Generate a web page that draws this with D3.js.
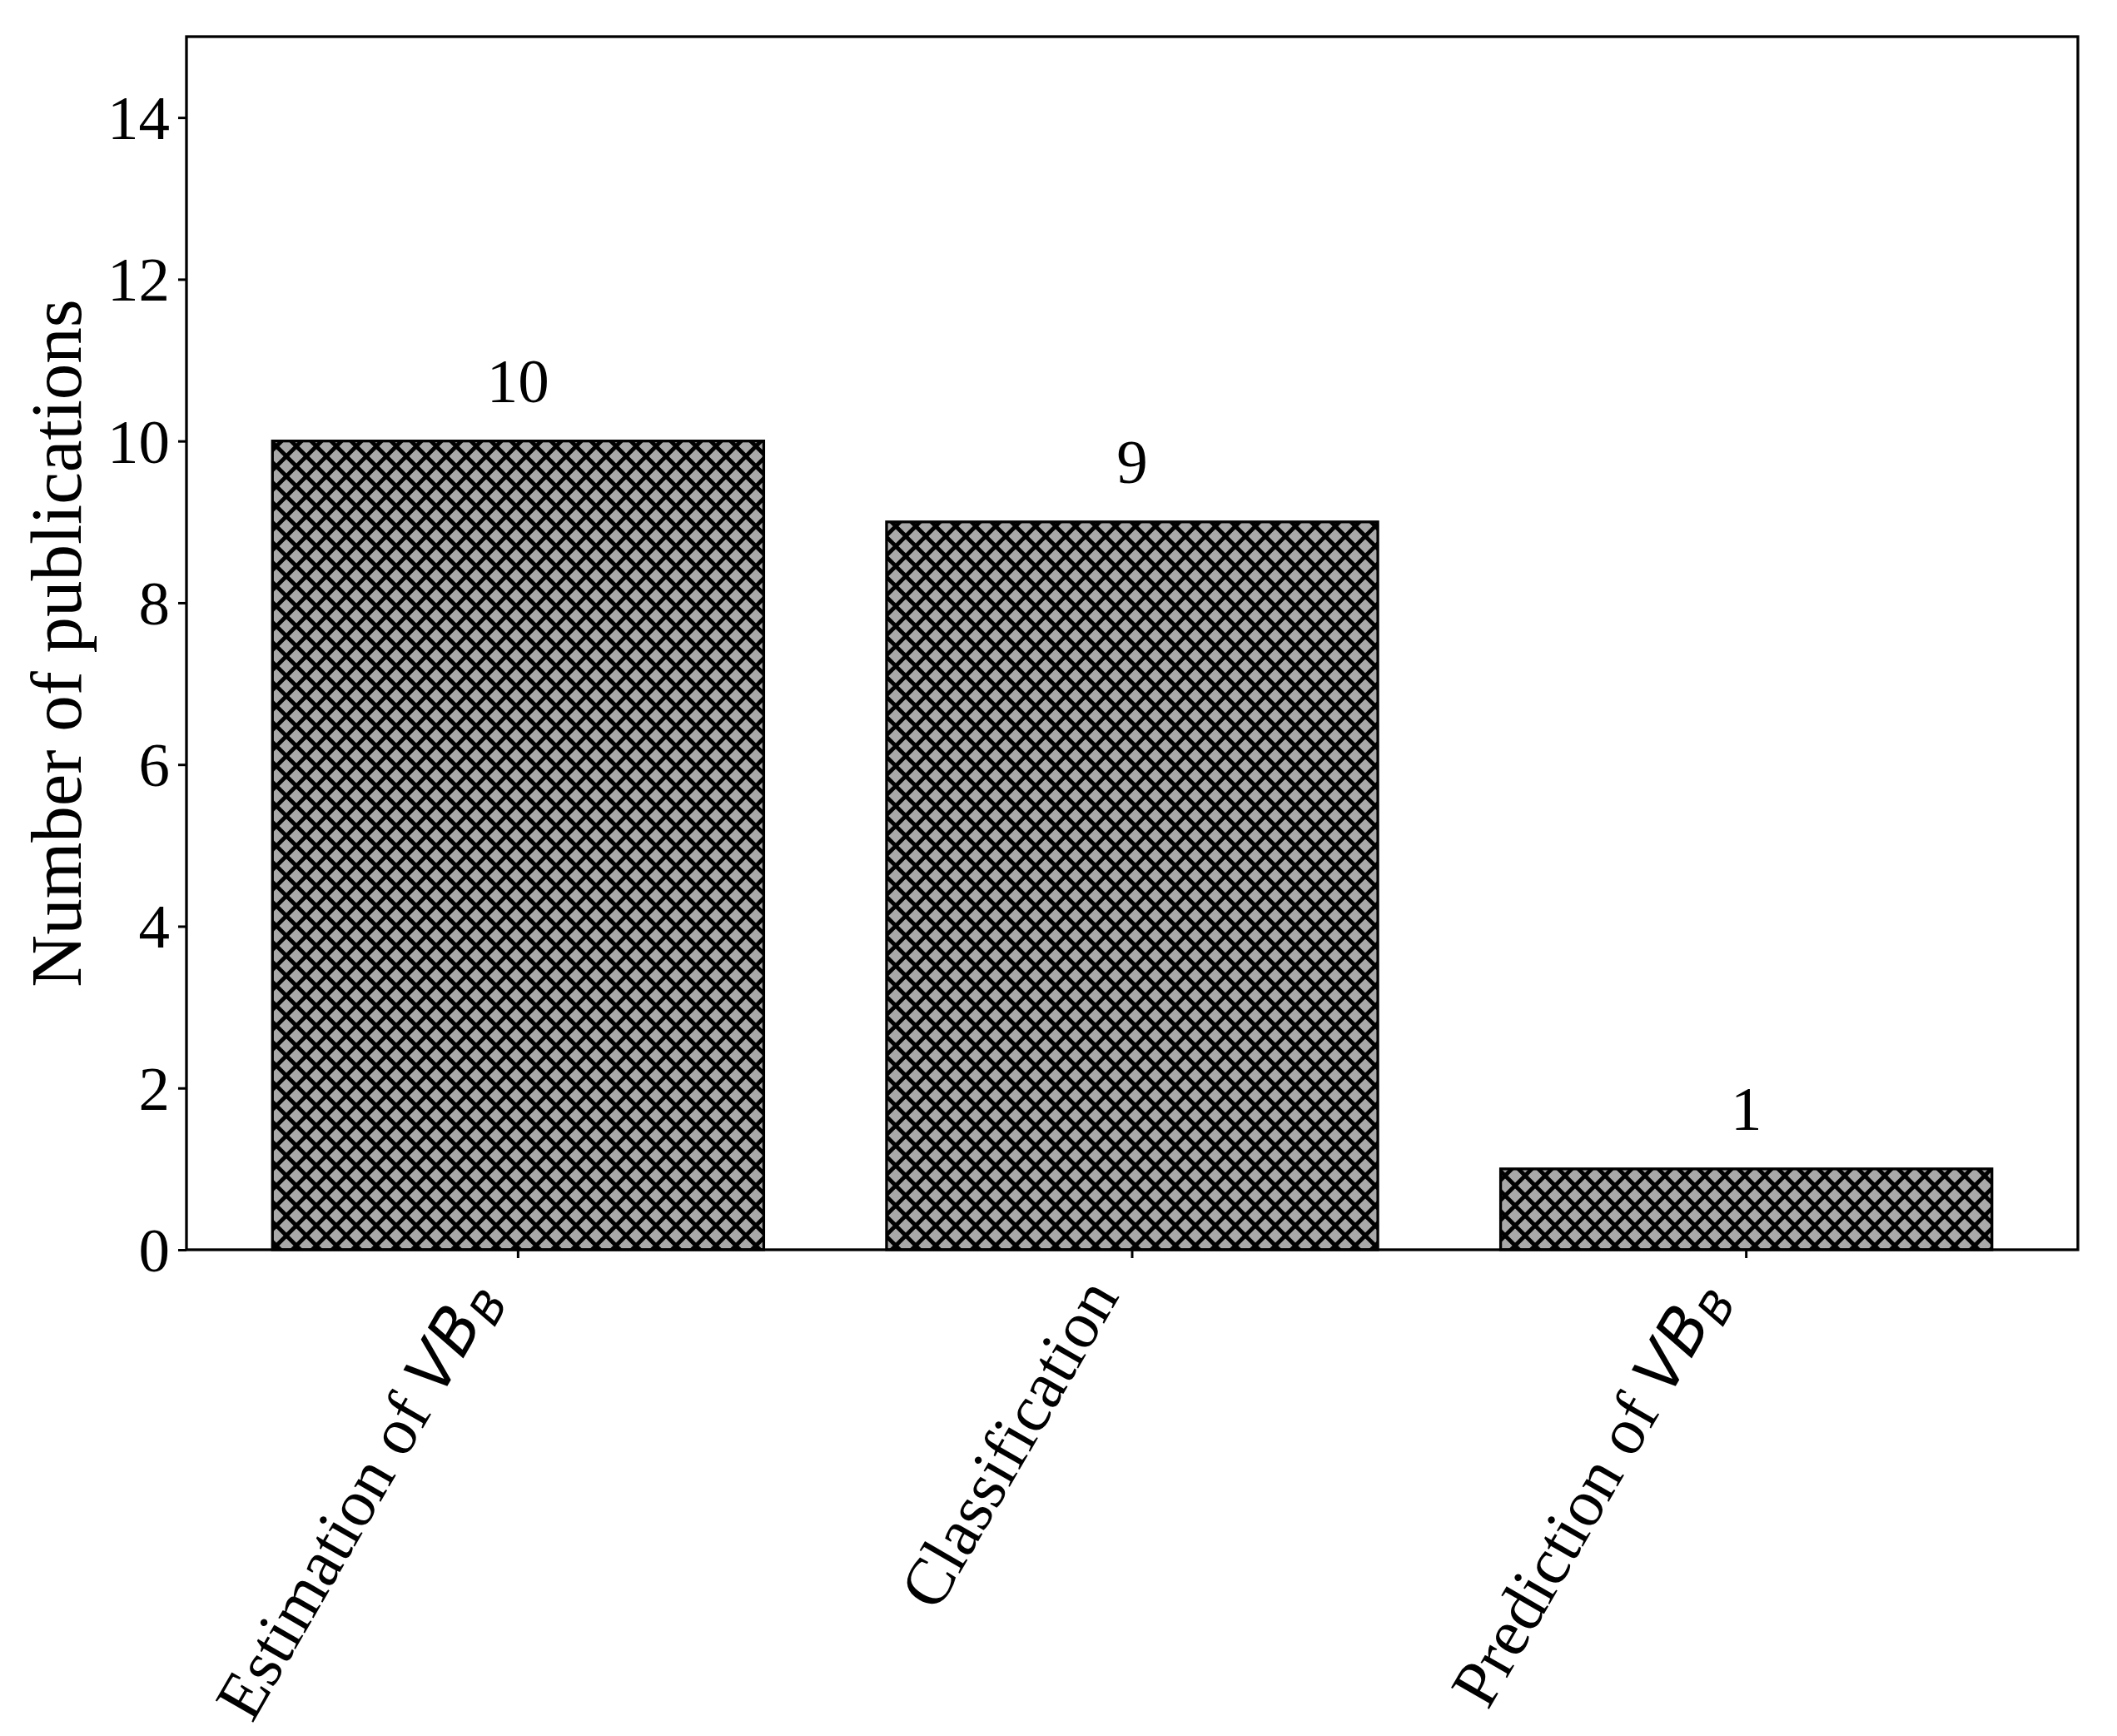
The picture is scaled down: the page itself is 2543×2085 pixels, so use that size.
<!DOCTYPE html>
<html>
<head>
<meta charset="utf-8">
<script src="https://cdn.jsdelivr.net/npm/d3@7"></script>
<style>
  body { margin: 0; background: #fff; }
  text { font-family: "Liberation Serif", "DejaVu Serif", serif; fill: #000; }
</style>
</head>
<body>
<svg id="chart" width="2543" height="2085"></svg>
<script>
// data
const categories = ["Estimation of", "Classification", "Prediction of"];
const mathParts = [true, false, true];   // label ends with italic VB_B
const counts = [10, 9, 1];
const yTicks = [0, 2, 4, 6, 8, 10, 12, 14];

const svg = d3.select("#chart");
const margin = {top: 44, right: 47, bottom: 584, left: 224};
const width = +svg.attr("width") - margin.left - margin.right;
const height = +svg.attr("height") - margin.top - margin.bottom;

// crosshatch fill like matplotlib 'xx'
const step = 24;
const pat = svg.append("defs").append("pattern")
    .attr("id", "xhatch")
    .attr("patternUnits", "userSpaceOnUse")
    .attr("width", step).attr("height", step);
pat.append("rect").attr("width", step).attr("height", step).attr("fill", "#a9a9a9");
pat.append("path")
    .attr("d", "M-12,-12L36,36M12,-12L36,12M-12,12L12,36M-12,36L36,-12M-12,12L12,-12M12,36L36,12")
    .attr("stroke", "#000").attr("stroke-width", 4.8).attr("fill", "none");

const g = svg.append("g").attr("transform", "translate(" + margin.left + "," + margin.top + ")");

const x = d3.scaleBand()
    .domain(d3.range(categories.length))
    .range([0, width])
    .paddingInner(0.2)
    .paddingOuter(0.14);

const y = d3.scaleLinear().domain([0, 15]).range([height, 0]);

// bars
g.selectAll(".bar")
  .data(counts)
  .enter().append("rect")
    .attr("class", "bar")
    .attr("x", (d, i) => x(i))
    .attr("y", d => y(d))
    .attr("width", x.bandwidth())
    .attr("height", d => y(0) - y(d))
    .attr("fill", "url(#xhatch)")
    .attr("stroke", "#000")
    .attr("stroke-width", 3.3);

// value labels
g.selectAll(".val")
  .data(counts)
  .enter().append("text")
    .attr("class", "val")
    .attr("x", (d, i) => x(i) + x.bandwidth() / 2)
    .attr("y", d => y(d) - 47)
    .attr("text-anchor", "middle")
    .style("font-size", "75px")
    .text(d => d);

// y axis
const yAxis = d3.axisLeft(y).tickValues(yTicks).tickSize(10).tickPadding(10);
const yg = g.append("g").call(yAxis);
yg.select(".domain").remove();
yg.selectAll(".tick line").attr("stroke", "#000").attr("stroke-width", 3);
yg.selectAll(".tick text")
    .style("font-size", "75px")
    .style("font-family", "Liberation Serif, serif")
    .attr("dy", "0.34em");

// x axis ticks
const xAxis = d3.axisBottom(x).tickSize(10).tickFormat("");
const xg = g.append("g").attr("transform", "translate(0," + height + ")").call(xAxis);
xg.select(".domain").remove();
xg.selectAll(".tick line").attr("stroke", "#000").attr("stroke-width", 3);

// rotated category labels, right edge at tick, top below tick
categories.forEach((c, i) => {
  const lg = g.append("g");
  const t = lg.append("text")
      .attr("transform", "rotate(-60)")
      .attr("text-anchor", "end")
      .style("font-size", "80px");
  t.append("tspan").text(mathParts[i] ? c + " " : c);
  if (mathParts[i]) {
    t.append("tspan")
        .style("font-family", "DejaVu Sans, sans-serif")
        .style("font-style", "italic")
        .style("font-size", "76px")
        .text("VB");
    t.append("tspan")
        .style("font-family", "DejaVu Sans, sans-serif")
        .style("font-style", "italic")
        .style("font-size", "53px")
        .attr("dy", "14")
        .text("B");
  }
  const bb = lg.node().getBBox();
  const cx = x(i) + x.bandwidth() / 2;
  lg.attr("transform", "translate(" + (cx - (bb.x + bb.width)) + "," + (height + 20 - bb.y) + ")");
});

// frame
g.append("rect")
    .attr("width", width).attr("height", height)
    .attr("fill", "none").attr("stroke", "#000").attr("stroke-width", 3.3);

// y label
svg.append("text")
    .attr("transform", "translate(97," + (margin.top + height / 2) + ") rotate(-90)")
    .attr("text-anchor", "middle")
    .style("font-size", "87px")
    .text("Number of publications");
</script>
</body>
</html>
